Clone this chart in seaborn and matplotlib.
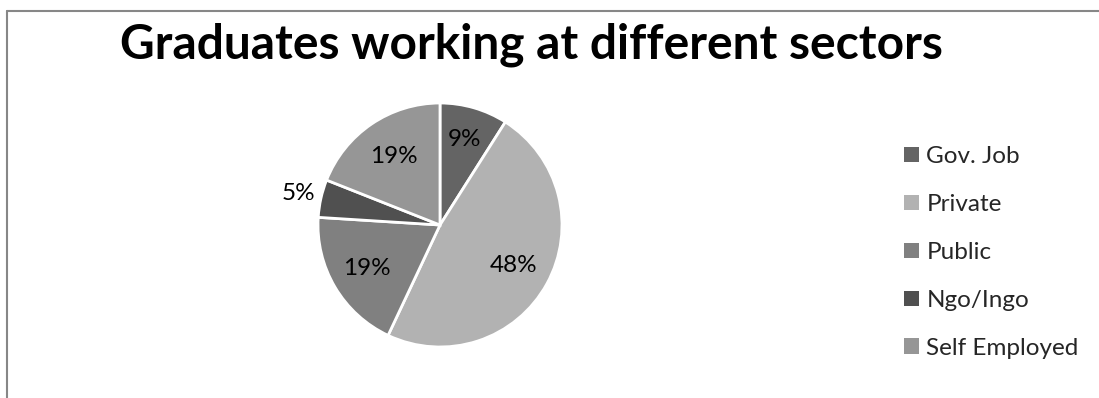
import matplotlib
matplotlib.use("Agg")
import numpy as np
import matplotlib.pyplot as plt
from matplotlib.lines import Line2D
from matplotlib.patches import Patch
import seaborn as sns

sectors = ["Gov. Job", "Private", "Public", "Ngo/Ingo", "Self Employed"]
shares = [9, 48, 19, 5, 19]
pct_labels = ["9%", "48%", "19%", "5%", "19%"]
title = "Graduates working at different sectors"

colors = ["#646464", "#b2b2b2", "#808080", "#505050", "#969696"]
label_dist = [0.73, 0.69, 0.70, 1.19, 0.68]

sns.set_theme(style="white")
plt.rcParams["font.family"] = ["Lato", "DejaVu Sans"]

W, H = 1099, 398
fig = plt.figure(figsize=(W / 100, H / 100), dpi=100)

# pie: centre (440, 225) px, radius 122 px
cx, cy, r = 440, 225, 122
ax = fig.add_axes([(cx - r) / W, (H - cy - r) / H, 2 * r / W, 2 * r / H])
wedges, _ = ax.pie(shares, colors=colors, startangle=90, counterclock=False,
                   wedgeprops=dict(edgecolor="white", linewidth=2))
ax.set_xlim(-1, 1)
ax.set_ylim(-1, 1)
ax.set_aspect("equal")
ax.axis("off")

for w, lab, d in zip(wedges, pct_labels, label_dist):
    mid = np.deg2rad((w.theta1 + w.theta2) / 2)
    ax.text(d * np.cos(mid), d * np.sin(mid), lab, ha="center", va="center",
            fontsize=17.5, color="black", clip_on=False)

fig.text(531 / W, 1 - 45 / H, title, ha="center", va="center",
         fontsize=34.5, fontweight="bold", color="black")

handles = [Patch(facecolor=c, edgecolor="none") for c in colors]
fig.legend(handles, sectors, loc="upper left", bbox_to_anchor=(904 / W, 1 - 146 / H),
           frameon=False, fontsize=17.5, handlelength=0.62, handleheight=0.62,
           handletextpad=0.3, labelspacing=1.11, borderpad=0, borderaxespad=0)

fig.add_artist(Line2D([6.5 / W, 6.5 / W], [0, 1 - 10.5 / H], color="#878787", lw=1.5))
fig.add_artist(Line2D([6.5 / W, 1], [1 - 10.5 / H, 1 - 10.5 / H], color="#878787", lw=1.5))

fig.savefig("out.png", dpi=100, facecolor="white")
